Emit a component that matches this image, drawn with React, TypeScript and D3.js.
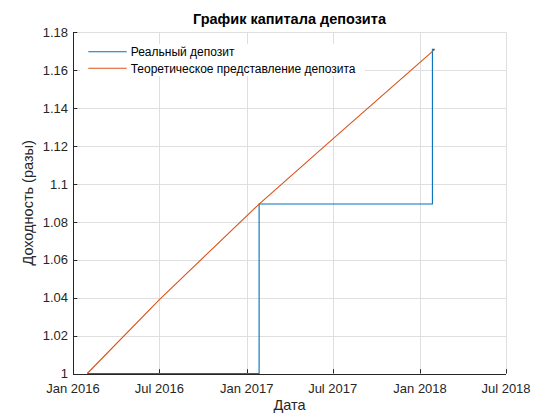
import React from "react";
import * as d3 from "d3";

const realDates = ["2016-01-31", "2017-01-27", "2017-01-27", "2018-01-27", "2018-01-27", "2018-02-01"];
const realValues = [1.0, 1.0, 1.0894, 1.0894, 1.171, 1.171];

const theoDates = ["2016-01-31", "2016-07-01", "2017-01-27", "2017-07-02", "2018-02-01"];
const theoValues = [1.0, 1.039, 1.0894, 1.1239, 1.171];

const xTickDates = ["2016-01-01", "2016-07-01", "2017-01-01", "2017-07-01", "2018-01-01", "2018-07-01"];
const xTickLabels = ["Jan 2016", "Jul 2016", "Jan 2017", "Jul 2017", "Jan 2018", "Jul 2018"];
const yTicks = [1, 1.02, 1.04, 1.06, 1.08, 1.1, 1.12, 1.14, 1.16, 1.18];

const seriesNames = ["Реальный депозит", "Теоретическое представление депозита"];
const colors = ["#0072BD", "#D95319"];

const W = 560, H = 420;
const L = 73, R = 506, T = 32.3, B = 373.5;
const FONT = "'Liberation Sans', Arial, Helvetica, sans-serif";
const AX = "#262626";

const parse = (s: string) => new Date(s + "T00:00:00Z");

export default function App() {
  const x = d3.scaleUtc().domain([parse("2016-01-01"), parse("2018-07-01")]).range([L, R]);
  const y = d3.scaleLinear().domain([1, 1.18]).range([B, T]);
  const fmt = d3.format(".2~f");

  const line = d3
    .line<[string, number]>()
    .x((d) => x(parse(d[0])))
    .y((d) => y(d[1]));

  const realData: [string, number][] = realDates.map((d, i) => [d, realValues[i]]);
  const theoData: [string, number][] = theoDates.map((d, i) => [d, theoValues[i]]);

  const tl = 4.3;

  return (
    <svg width={W} height={H} style={{ position: "absolute", left: 0, top: 0, background: "#fff" }} fontFamily={FONT}>
      <rect x={0} y={0} width={W} height={H} fill="#fff" />
      {/* grid */}
      <g stroke="#dfdfdf" strokeWidth={1}>
        {xTickDates.map((d) => (
          <line key={d} x1={Math.round(x(parse(d))) + 0.5} x2={Math.round(x(parse(d))) + 0.5} y1={T} y2={B} />
        ))}
        {yTicks.map((v) => (
          <line key={v} x1={L} x2={R} y1={Math.round(y(v)) + 0.5} y2={Math.round(y(v)) + 0.5} />
        ))}
      </g>
      {/* legend background */}
      <rect x={80} y={44} width={285} height={32} fill="#fff" />
      {/* axes */}
      <g stroke={AX} strokeWidth={1}>
        <line x1={L + 0.5} x2={L + 0.5} y1={T} y2={B + 0.5} />
        <line x1={L} x2={R} y1={Math.round(B) + 0.5} y2={Math.round(B) + 0.5} />
        {xTickDates.map((d) => (
          <line key={d} x1={Math.round(x(parse(d))) + 0.5} x2={Math.round(x(parse(d))) + 0.5} y1={B} y2={B - tl} />
        ))}
        {yTicks.map((v) => (
          <line key={v} x1={L} x2={L + tl} y1={Math.round(y(v)) + 0.5} y2={Math.round(y(v)) + 0.5} />
        ))}
      </g>
      {/* series */}
      <path d={line(realData) || ""} fill="none" stroke={colors[0]} strokeWidth={1.1} />
      <path d={line(theoData) || ""} fill="none" stroke={colors[1]} strokeWidth={1.1} />
      {/* tick labels */}
      <g fill={AX} fontSize={13}>
        {xTickDates.map((d, i) => (
          <text key={d} x={x(parse(d))} y={B + 19.5} textAnchor="middle">
            {xTickLabels[i]}
          </text>
        ))}
        {yTicks.map((v) => (
          <text key={v} x={L - 5} y={y(v) + 4.7} textAnchor="end">
            {fmt(v)}
          </text>
        ))}
      </g>
      {/* axis labels */}
      <text x={(L + R) / 2} y={410} textAnchor="middle" fontSize={14.5} fill={AX}>
        Дата
      </text>
      <text transform={`translate(33,${(T + B) / 2}) rotate(-90)`} textAnchor="middle" fontSize={14.5} fill={AX}>
        Доходность (разы)
      </text>
      <text x={(L + R) / 2} y={24} textAnchor="middle" fontSize={14.5} fontWeight="bold" fill="#000">
        График капитала депозита
      </text>
      {/* legend */}
      {seriesNames.map((n, i) => (
        <g key={n}>
          <line x1={88.3} x2={126.7} y1={51.7 + i * 16.6} y2={51.7 + i * 16.6} stroke={colors[i]} strokeWidth={1.1} />
          <text x={130.7} y={51.7 + i * 16.6 + 4.3} fontSize={12} fill="#000">
            {n}
          </text>
        </g>
      ))}
    </svg>
  );
}
